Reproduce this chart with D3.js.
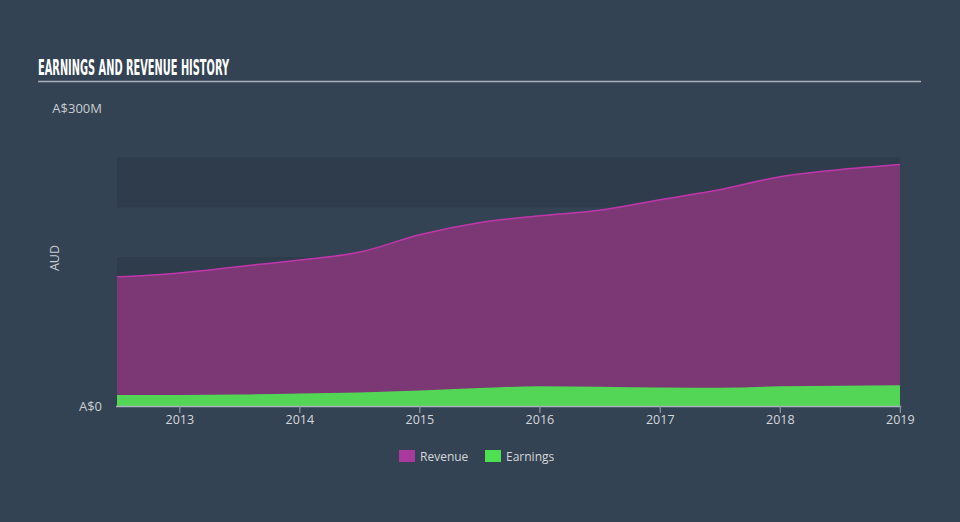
<!DOCTYPE html>
<html>
<head>
<meta charset="utf-8">
<script src="https://cdn.jsdelivr.net/npm/d3@7"></script>
<style>
  html, body { margin: 0; padding: 0; background: #344353; }
  svg { display: block; }
</style>
</head>
<body>
<svg id="chart" width="960" height="522"></svg>
<script>
// ---- data ----
const dates = ["2012-06-24","2012-12-31","2013-06-30","2013-12-31","2014-06-30","2014-12-31",
               "2015-06-30","2015-12-31","2016-06-30","2016-12-31","2017-06-30","2017-12-31",
               "2018-06-30","2018-12-31"];
const revenue  = [130, 134, 140.4, 147, 154.7, 172.4, 184.5, 191.5, 197, 207.7, 217.7, 230.8, 237.9, 243];
const earnings = [11.1, 11.1, 11.5, 12.5, 13.5, 15.5, 18, 20, 19.5, 18.5, 18.3, 19.8, 20.5, 21];
const yTickValues = [0, 300];
const yTickLabels = ["A$0", "A$300M"];
const bandRanges = [[0, 50], [100, 150], [200, 250]];
const xTickYears = [2013, 2014, 2015, 2016, 2017, 2018, 2019];
const seriesNames = ["Revenue", "Earnings"];
const title = "EARNINGS AND REVENUE HISTORY";
const yAxisTitle = "AUD";

// ---- layout ----
const svg = d3.select("#chart");
const parse = d3.timeParse("%Y-%m-%d");
const dd = dates.map(parse);
const x = d3.scaleTime().domain([dd[0], dd[dd.length - 1]]).range([117, 900]);
const y = d3.scaleLinear().domain([0, 300]).range([406, 108]);

// background
svg.append("rect").attr("width", 960).attr("height", 522).attr("fill", "#344353");

// title
svg.append("text").attr("x", 38).attr("y", 75)
  .attr("fill", "#ffffff")
  .attr("font-family", "'DejaVu Sans Condensed', 'DejaVu Sans', sans-serif")
  .attr("font-weight", "bold").attr("font-size", 21.5)
  .attr("textLength", 191).attr("lengthAdjust", "spacingAndGlyphs")
  .text(title);
svg.append("line").attr("x1", 38).attr("x2", 921).attr("y1", 81.5).attr("y2", 81.5)
  .attr("stroke", "#a9b1bb").attr("stroke-width", 1.5);

// bands
svg.append("g").selectAll("rect").data(bandRanges).join("rect")
  .attr("x", x.range()[0]).attr("width", x.range()[1] - x.range()[0])
  .attr("y", d => y(d[1])).attr("height", d => y(d[0]) - y(d[1]))
  .attr("fill", "#2e3c4c");

// areas
const pts = dd.map((d, i) => ({ d, r: revenue[i], e: earnings[i] }));
const revArea = d3.area().x(p => x(p.d)).y0(y(0)).y1(p => y(p.r)).curve(d3.curveMonotoneX);
const revLine = d3.line().x(p => x(p.d)).y(p => y(p.r)).curve(d3.curveMonotoneX);
const earnArea = d3.area().x(p => x(p.d)).y0(y(0)).y1(p => y(p.e)).curve(d3.curveMonotoneX);

svg.append("path").datum(pts).attr("d", revArea).attr("fill", "#7b3874");
svg.append("path").datum(pts).attr("d", revLine).attr("fill", "none")
  .attr("stroke", "#c236ad").attr("stroke-width", 1.5);
svg.append("path").datum(pts).attr("d", earnArea).attr("fill", "#53d655");

// x axis
const xAxisG = svg.append("g").attr("transform", `translate(0,${y(0)})`);
const tickDates = xTickYears.map(yr => new Date(yr, 0, 1));
xAxisG.append("line").attr("x1", x.range()[0] - 1).attr("x2", x(tickDates[tickDates.length - 1]) + 1)
  .attr("y1", 0.5).attr("y2", 0.5).attr("stroke", "#aab3bf").attr("stroke-width", 1.5);
const xt = xAxisG.selectAll("g.tick").data(tickDates).join("g")
  .attr("transform", d => `translate(${x(d)},0)`);
xt.append("line").attr("y1", 0).attr("y2", 7).attr("stroke", "#8d97a4").attr("stroke-width", 1.2);
xt.append("text").attr("y", 18).attr("text-anchor", "middle")
  .attr("fill", "#d3d7dc").attr("font-family", "'Open Sans', sans-serif").attr("font-size", 12.5)
  .text(d => d3.timeFormat("%Y")(d));

// y labels
svg.append("g").selectAll("text").data(yTickValues).join("text")
  .attr("x", 102).attr("y", d => y(d) + 4.5).attr("text-anchor", "end")
  .attr("fill", "#c9cdd2").attr("font-family", "'Open Sans', sans-serif").attr("font-size", 13)
  .text((d, i) => yTickLabels[i]);
svg.append("text").attr("transform", `translate(59,258) rotate(-90)`)
  .attr("text-anchor", "middle").attr("fill", "#c9cdd2")
  .attr("font-family", "'Open Sans', sans-serif").attr("font-size", 12.5)
  .text(yAxisTitle);

// legend
const legendColors = ["#a93a9b", "#4fe051"];
const legendX = [399, 485];
const lg = svg.append("g").selectAll("g").data(seriesNames).join("g")
  .attr("transform", (d, i) => `translate(${legendX[i]},450)`);
lg.append("rect").attr("width", 16).attr("height", 12).attr("fill", (d, i) => legendColors[i]);
lg.append("text").attr("x", 21).attr("y", 10.5)
  .attr("fill", "#d3d7dc").attr("font-family", "'Open Sans', sans-serif").attr("font-size", 12)
  .text(d => d);
</script>
</body>
</html>
